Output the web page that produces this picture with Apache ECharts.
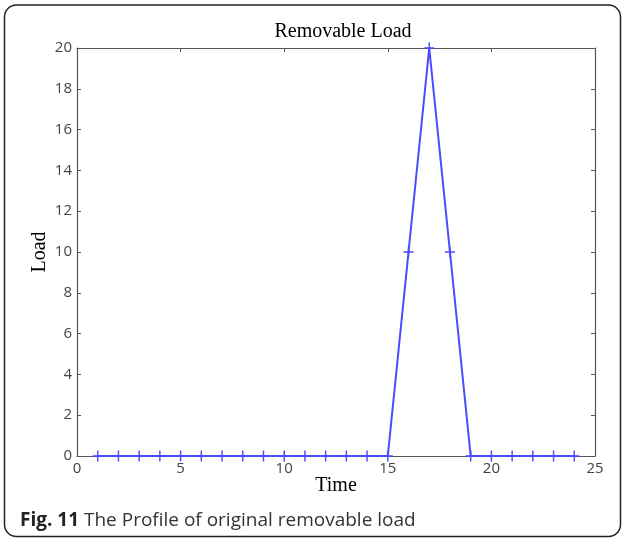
<!DOCTYPE html>
<html>
<head>
<meta charset="utf-8">
<script src="https://cdn.jsdelivr.net/npm/echarts@6/dist/echarts.min.js"></script>
<style>
html, body { margin: 0; padding: 0; background: #fff; }
#chart { width: 624px; height: 541px; }
</style>
</head>
<body>
<div id="chart"></div>
<script>
var myChart = echarts.init(document.getElementById('chart'));

// 数据
var timeSteps = [1, 2, 3, 4, 5, 6, 7, 8, 9, 10, 11, 12, 13, 14, 15, 16, 17, 18, 19, 20, 21, 22, 23, 24];
var loadValues = [0, 0, 0, 0, 0, 0, 0, 0, 0, 0, 0, 0, 0, 0, 0, 10, 20, 10, 0, 0, 0, 0, 0, 0];
var xTicks = [0, 5, 10, 15, 20, 25];
var yTicks = [0, 2, 4, 6, 8, 10, 12, 14, 16, 18, 20];

var points = timeSteps.map(function (t, i) { return [t, loadValues[i]]; });

var axisGrey = '#555';
var tickFont = { fontFamily: 'Open Sans', fontSize: 15, color: '#444' };

var option = {
    animation: false,
    grid: { left: 77, right: 29, top: 48, bottom: 85 },
    title: {
        text: 'Removable Load',
        left: 338,
        top: 17,
        textAlign: 'center',
        textStyle: { fontFamily: 'Liberation Serif', fontSize: 20, fontWeight: 'normal', color: '#000' }
    },
    graphic: [
        {
            type: 'rect',
            shape: { x: 4.5, y: 5, width: 616, height: 531.5, r: 12 },
            style: { fill: 'none', stroke: '#222', lineWidth: 1.5 },
            z: 0
        },
        {
            type: 'text',
            left: 20,
            top: 511,
            style: {
                text: '{b|Fig. 11} The Profile of original removable load',
                font: '19px "Open Sans"',
                fill: '#333',
                rich: { b: { fontWeight: 'bold', fontFamily: 'Open Sans', fontSize: 19, fill: '#222' } }
            }
        }
    ],
    xAxis: [
        {
            type: 'value',
            min: xTicks[0],
            max: xTicks[xTicks.length - 1],
            interval: 5,
            name: 'Time',
            nameLocation: 'middle',
            nameGap: 20,
            nameMoveOverlap: false,
            nameTextStyle: { fontFamily: 'Liberation Serif', fontSize: 20, color: '#000' },
            axisLine: { onZero: false, lineStyle: { color: axisGrey, width: 1.2 } },
            axisTick: { inside: true, length: 4, lineStyle: { color: axisGrey } },
            axisLabel: { margin: 5, fontFamily: tickFont.fontFamily, fontSize: tickFont.fontSize, color: tickFont.color },
            splitLine: { show: false }
        },
        {
            type: 'value',
            position: 'top',
            min: 0,
            max: 25,
            interval: 5,
            axisLine: { show: true, onZero: false, lineStyle: { color: axisGrey, width: 1.2 } },
            axisTick: { inside: true, length: 4, lineStyle: { color: axisGrey } },
            axisLabel: { show: false },
            splitLine: { show: false }
        }
    ],
    yAxis: [
        {
            type: 'value',
            min: yTicks[0],
            max: yTicks[yTicks.length - 1],
            interval: 2,
            name: 'Load',
            nameLocation: 'middle',
            nameGap: 27,
            nameMoveOverlap: false,
            nameTextStyle: { fontFamily: 'Liberation Serif', fontSize: 20, color: '#000' },
            axisLine: { show: true, onZero: false, lineStyle: { color: axisGrey, width: 1.2 } },
            axisTick: { show: true, inside: true, length: 4, lineStyle: { color: axisGrey } },
            axisLabel: { margin: 5, fontFamily: tickFont.fontFamily, fontSize: tickFont.fontSize, color: tickFont.color },
            splitLine: { show: false }
        },
        {
            type: 'value',
            position: 'right',
            min: 0,
            max: 20,
            interval: 2,
            axisLine: { show: true, onZero: false, lineStyle: { color: axisGrey, width: 1.2 } },
            axisTick: { show: true, inside: true, length: 4, lineStyle: { color: axisGrey } },
            axisLabel: { show: false },
            splitLine: { show: false }
        }
    ],
    series: [
        {
            type: 'line',
            data: points,
            symbol: 'path://M0,5L10,5M5,0L5,10',
            symbolSize: [10, 11],
            showAllSymbol: true,
            lineStyle: { color: '#4a4aff', width: 2 },
            itemStyle: { color: 'none', borderColor: '#4a4aff', borderWidth: 1.5 },
            z: 3
        }
    ]
};

myChart.setOption(option);
</script>
</body>
</html>
